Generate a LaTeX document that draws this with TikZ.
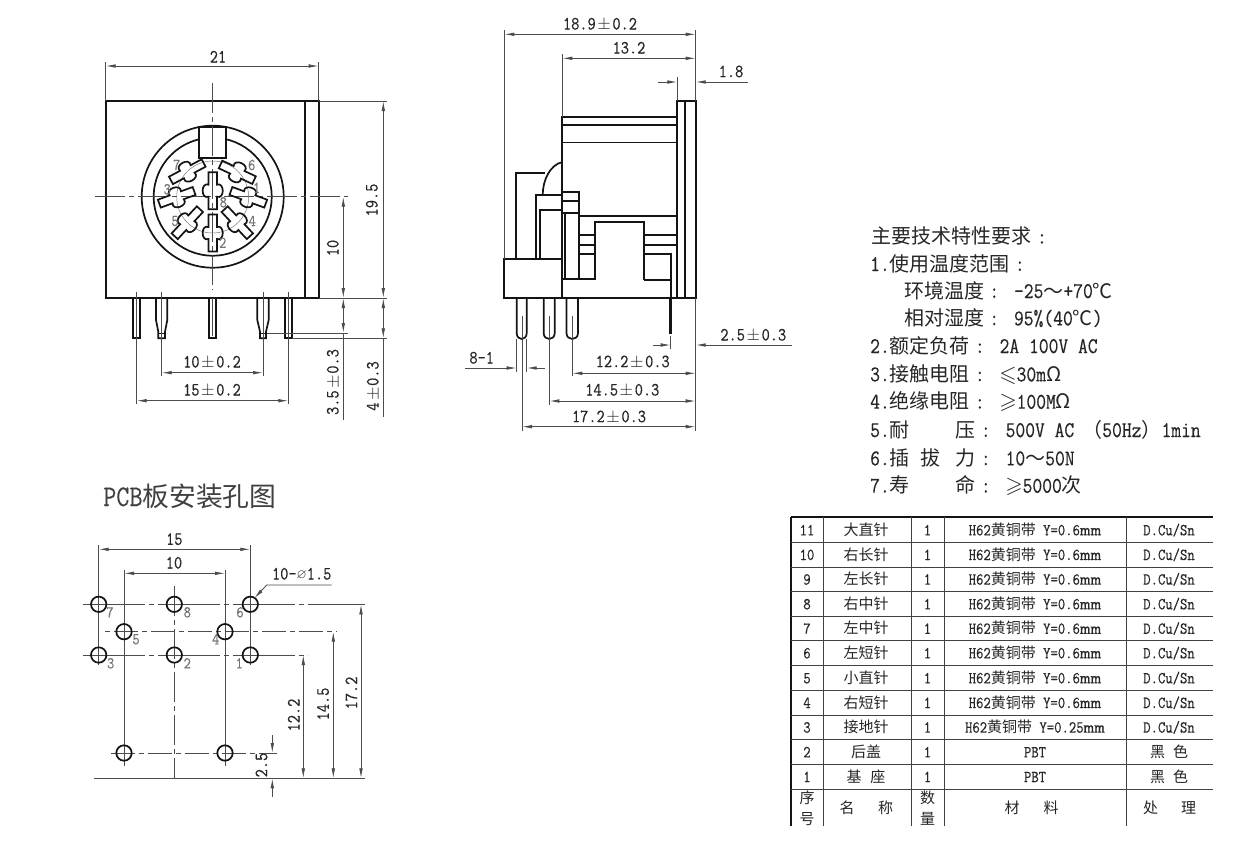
\documentclass[tikz,border=0pt]{standalone}
\usepackage{fontspec}
\usepackage{amssymb}
\usetikzlibrary{arrows.meta}
\setmonofont[FakeStretch=.85,FakeBold=.3]{Latin Modern Mono}
\newfontfamily\cjk[Scale=.893]{Noto Sans CJK SC}
\newcounter{nn}
\newcommand{\txt}[4][]{\stepcounter{nn}\node[#1] (t\arabic{nn}) at (#2,#3) {#4};}
\newcommand{\zh}[1]{{\cjk #1}}
\newcommand{\cln}{\makebox[20pt][c]{:}}
\newcommand{\PM}{\makebox[16.7pt][c]{$\pm$}}
\newcommand{\Hm}[1]{H62\zh{黄铜带} Y=#1\scalebox{1.45}[1]{mm}}
\newcommand{\sock}[3]{\draw[heavy,shift={(#1,#2)},rotate=#3]
  (-18.5,-4.2) -- (-6,-4.2) .. controls (-9,-12) and (9,-12) .. (6,-4.2) -- (18.5,-4.2) -- (18.5,4.2) -- (6,4.2)
  .. controls (9,12) and (-9,12) .. (-6,4.2) -- (-18.5,4.2) -- cycle;}
\newcommand{\hole}[2]{\draw[heavy] (#1,#2) circle (7.7);}
\newcommand{\trow}[5]{\txt[tcell]{807}{#1}{#2}\txt[tcell]{866}{#1}{#3}\txt[tcell]{927.5}{#1}{1}\txt[tcell]{1035}{#1}{#4}\txt[tcell]{1169}{#1}{#5}}
\tikzset{
  heavy/.style={line width=1.7pt,draw=black!92},
  thin line/.style={line width=.85pt,draw=black!70},
  hair/.style={line width=.45pt,draw=black!55},
  center line/.style={line width=.85pt,draw=black!70,dash pattern=on 30pt off 4pt on 5pt off 4pt},
  dimtxt/.style={inner sep=0pt,font=\ttfamily\fontsize{18.7}{19}\selectfont,text=black!85,text height=11pt,text depth=0pt},
  gray label/.style={inner sep=0pt,font=\ttfamily\fontsize{16.5}{17}\selectfont,text=black!55},
  spec/.style={inner sep=0pt,anchor=west,font=\ttfamily\fontsize{22.4}{23}\selectfont,text=black!85,text height=15pt,text depth=1pt},
  tcell/.style={inner sep=0pt,font=\ttfamily\fontsize{16.8}{17}\selectfont,text=black!85,text height=11pt,text depth=.4pt},
  table line/.style={line width=.9pt,draw=black!75},
}
\begin{document}
\begin{tikzpicture}[x=1pt,y=-1pt,>={Latex[length=10pt,width=3.6pt]},line join=miter]
\useasboundingbox[fill=white] (0,0) rectangle (1258,844);

% ---------- front view
\draw[heavy] (105.7,101) rectangle (318.7,298);
\draw[heavy] (305,101) -- (305,298);
\draw[heavy] (212.7,196.7) circle (71);
\draw[heavy] (212.7,196.7) circle (59);
\draw[heavy,fill=white] (199.3,127.3) rectangle (226,158);
\draw[center line] (95,196.7) -- (348,196.7);
\draw[center line] (212.7,83) -- (212.7,290);
\draw[hair] (212.7,197) circle (36);
\sock{212.7}{190.7}{90}
\sock{212.7}{233}{90}
\sock{187.3}{171.7}{28}
\sock{237.3}{172.3}{-25}
\sock{176.7}{197.3}{20}
\sock{248.3}{197.3}{-20}
\sock{187.3}{222.7}{47}
\sock{237.3}{222.7}{-47}
\txt[gray label]{176.7}{165}{7}
\txt[gray label]{251.7}{165}{6}
\txt[gray label]{167.3}{189.3}{3}
\txt[gray label]{256.7}{187.7}{1}
\txt[gray label]{223.3}{202.3}{8}
\txt[gray label]{175}{221}{5}
\txt[gray label]{252.3}{221}{4}
\txt[gray label]{222.7}{242.7}{2}
% front pins
\draw[heavy] (133.3,298) -- (133.3,338.3) -- (140,338.3) -- (140,298);
\draw[heavy] (285,298) -- (285,338.3) -- (292.3,338.3) -- (292.3,298);
\draw[heavy] (209,298) -- (209,338.3) -- (216.3,338.3) -- (216.3,298);
\draw[heavy] (156,298) -- (156,320) -- (158.3,331.7) -- (158.3,338.3) -- (165,338.3) -- (165,331.7) -- (167.3,320) -- (167.3,298);
\draw[heavy] (257.3,298) -- (257.3,320) -- (260,331.7) -- (260,338.3) -- (266,338.3) -- (266,331.7) -- (268.7,320) -- (268.7,298);
\draw[heavy,line width=.9pt] (158.3,333.7) -- (165,333.7) (260,333.7) -- (266,333.7);
\draw[thin line] (136.7,291.7) -- (136.7,404);
\draw[thin line] (288.3,291.7) -- (288.3,404);
\draw[thin line] (161.7,291.7) -- (161.7,376);
\draw[thin line] (263,291.7) -- (263,376);
\draw[thin line] (212.7,298) -- (212.7,336);
% front dims
\draw[thin line] (105.7,101) -- (105.7,62) (318.7,101) -- (318.7,62);
\draw[thin line,<->] (105.7,66) -- (318.7,66);
\txt[dimtxt]{218}{57}{21}
\draw[thin line] (318.7,101) -- (387,101) (318.7,298) -- (387,298);
\draw[thin line,<->] (383.3,101) -- (383.3,298);
\txt[dimtxt,rotate=90]{372}{200}{19.5}
\draw[thin line,<->] (343.3,196.7) -- (343.3,298);
\txt[dimtxt,rotate=90]{333}{248}{10}
\draw[thin line,<->] (343.3,298) -- (343.3,333);
\draw[thin line] (343.3,333) -- (343.3,420);
\draw[thin line,<->] (383.3,298) -- (383.3,338.3);
\draw[thin line] (383.3,338.3) -- (383.3,417);
\draw[thin line] (267,333) -- (348,333) (292,338.3) -- (387,338.3);
\txt[dimtxt,rotate=90]{333}{382}{3.5\PM 0.3}
\txt[dimtxt,rotate=90]{373}{386}{4\PM 0.3}
\draw[thin line,<->] (161.7,372.7) -- (263,372.7);
\txt[dimtxt]{212}{362}{10\PM 0.2}
\draw[thin line,<->] (136.7,400.7) -- (288.3,400.7);
\txt[dimtxt]{212}{390}{15\PM 0.2}

% ---------- side view
\draw[heavy] (677.3,101) rectangle (696,298.3);
\draw[heavy] (684.7,101) -- (684.7,298.3);
\draw[heavy] (562.3,298.3) -- (562.3,116.7) -- (677.3,116.7);
\draw[heavy] (562.3,125) -- (677.3,125);
\draw[heavy,line width=1.1pt] (562.3,142.3) -- (677.3,142.3);
\draw[heavy] (504,259.3) rectangle (562.3,298.3);
\draw[heavy] (562.3,298.3) -- (677.3,298.3);
\draw[heavy] (516,259.3) -- (516,172.7) -- (545.3,172.7);
\draw[heavy] (562.3,162) .. controls (550,165) and (542.7,180) .. (542.7,195.3);
\draw[heavy] (536,259.3) -- (536,195.3) -- (562.3,195.3);
\draw[heavy] (540,259.3) -- (540,210) -- (562.3,210);
\draw[heavy] (562.3,192) -- (579.3,192) -- (579.3,278.3);
\draw[heavy] (562.3,200.7) -- (579.3,200.7) (562.3,212.7) -- (579.3,212.7);
\draw[heavy] (565,212.7) -- (565,278.3);
\draw[heavy,line width=2pt] (562.3,279) -- (595,279);
\draw[heavy] (579.3,216) -- (677.3,216);
\draw[heavy] (595,280) -- (595,222) -- (644.3,222) -- (644.3,280);
\draw[heavy] (579.3,235) -- (595,235) (579.3,244.7) -- (595,244.7) (579.3,254) -- (595,254);
\draw[heavy] (644.3,235) -- (677.3,235) (644.3,244.7) -- (677.3,244.7);
\draw[heavy,line width=2pt] (644.3,279.5) -- (670,279.5);
\draw[heavy] (644.3,254) -- (670.7,254) -- (670.7,298.3);
\draw[heavy,line width=2.8pt] (670.5,298.3) -- (670.5,334);
\draw[heavy] (516.7,298.3) -- (516.7,333) .. controls (516.7,341) and (526.7,341) .. (526.7,333) -- (526.7,298.3);
\draw[heavy] (543.7,298.3) -- (543.7,333) .. controls (543.7,341) and (554.7,341) .. (554.7,333) -- (554.7,298.3);
\draw[heavy] (566.5,298.3) -- (566.5,333) .. controls (566.5,341) and (578,341) .. (578,333) -- (578,298.3);
% side dims
\draw[thin line] (504.3,30) -- (504.3,259.3);
\draw[thin line] (695.7,30) -- (695.7,101);
\draw[thin line] (562.3,54) -- (562.3,116.7);
\draw[thin line] (677.3,77) -- (677.3,101);
\draw[thin line,<->] (504.3,34.3) -- (695.7,34.3);
\txt[dimtxt]{600}{24}{18.9\PM 0.2}
\draw[thin line,<->] (562.3,58.3) -- (695.7,58.3);
\txt[dimtxt]{629}{48}{13.2}
\draw[thin line,->] (658,82) -- (677.3,82);
\draw[thin line,->] (748,82) -- (695.7,82);
\txt[dimtxt]{731}{71.7}{1.8}
\draw[thin line] (695.7,298.3) -- (695.7,431);
\draw[thin line] (670.7,336) -- (670.7,349);
\draw[thin line,->] (652.7,345) -- (670.7,345);
\draw[thin line,->] (792,345) -- (695.7,345);
\txt[dimtxt]{753.3}{335}{2.5\PM 0.3}
\draw[thin line] (522,316) -- (522,431);
\draw[thin line] (549.3,316) -- (549.3,405);
\draw[thin line] (572.3,316) -- (572.3,376);
\draw[thin line] (516.7,339) -- (516.7,372) (526.7,339) -- (526.7,372);
\draw[thin line,->] (465,368) -- (516.7,368);
\draw[thin line,->] (545,368) -- (526.7,368);
\txt[dimtxt]{481.7}{358}{8-1}
\draw[thin line,<->] (572.3,373.3) -- (695.7,373.3);
\txt[dimtxt]{632.7}{361.7}{12.2\PM 0.3}
\draw[thin line,<->] (549.3,401) -- (695.7,401);
\txt[dimtxt]{622.3}{390}{14.5\PM 0.3}
\draw[thin line,<->] (522,426.7) -- (695.7,426.7);
\txt[dimtxt]{609}{416.7}{17.2\PM 0.3}

% ---------- specification text
\txt[spec]{871.7}{236.7}{\zh{主要技术特性要求}\cln}
\txt[spec]{870}{264}{1.\zh{使用温度范围}\cln}
\txt[spec]{904}{291}{\zh{环境温度}\cln{} -25\zh{～}+70\zh{℃}}
\txt[spec]{904}{318.3}{\zh{相对湿度}\cln{} 95\%(40\zh{℃})}
\txt[spec]{870}{346}{2.\zh{额定负荷}\cln{} 2A 100V AC}
\txt[spec]{870}{374.3}{3.\zh{接触电阻}\cln{} \makebox[17pt][c]{$\leqslant$}30m\zh{Ω}}
\txt[spec]{870}{401.7}{4.\zh{绝缘电阻}\cln{} \makebox[17pt][c]{$\geqslant$}100M\zh{Ω}}
\txt[spec]{870}{430}{5.\zh{耐}\hspace{46pt}\zh{压}\cln{} 500V AC\hspace{8pt}\zh{（}50Hz\zh{）}1min}
\txt[spec]{870}{458.3}{6.\zh{插}\hspace{11pt}\zh{拔}\hspace{15pt}\zh{力}\cln{} 10\zh{～}50N}
\txt[spec]{870}{485.7}{7.\zh{寿}\hspace{46pt}\zh{命}\cln{} \makebox[17pt][c]{$\geqslant$}5000\zh{次}}

% ---------- PCB holes
\txt[inner sep=0pt,anchor=west,font=\ttfamily\fontsize{30}{31}\selectfont,text=black!75,text height=20pt,text depth=2pt]{103}{497}{PCB\zh{板安装孔图}}
\draw[thin line] (98.7,545) -- (98.7,665) (250.3,545) -- (250.3,665);
\draw[thin line] (124,570) -- (124,765.7) (225,570) -- (225,765.7);
\draw[center line] (174.3,586) -- (174.3,778.3);
\draw[center line,dash pattern=on 62pt off 4pt on 5pt off 4pt] (83.3,604.3) -- (365,604.3);
\draw[center line,dash pattern=on 5pt off 4pt on 24pt off 4pt] (105,631.7) -- (336.7,631.7);
\draw[center line,dash pattern=on 62pt off 4pt on 5pt off 4pt] (83.3,655) -- (308.3,655);
\draw[center line,dash pattern=on 24pt off 4pt on 5pt off 4pt] (110.7,753) -- (276.7,753);
\draw[thin line] (94,778.3) -- (365,778.3);
\foreach \hx/\hy in {98.7/604.3,174.3/604.3,250.3/604.3,124/631.7,225/631.7,98.7/655,174.3/655,250.3/655,124/753,225/753}{\hole{\hx}{\hy}}
\txt[gray label]{110}{612.3}{7}
\txt[gray label]{187.3}{612.3}{8}
\txt[gray label]{240}{612.3}{6}
\txt[gray label]{136}{639.3}{5}
\txt[gray label]{215.7}{639.3}{4}
\txt[gray label]{110.7}{663.3}{3}
\txt[gray label]{187.3}{663.3}{2}
\txt[gray label]{239.3}{663.3}{1}
\draw[thin line,<->] (98.7,549.3) -- (250.3,549.3);
\txt[dimtxt]{174.3}{539.3}{15}
\draw[thin line,<->] (124,573.3) -- (225,573.3);
\txt[dimtxt]{174}{563}{10}
\draw[thin line,<-] (254.3,598.3) -- (266.7,585) -- (331.7,585);
\txt[dimtxt]{301.7}{574}{10-\raisebox{1pt}{\scalebox{.7}{$\varnothing$}}1.5}
\draw[thin line,<->] (361,604.3) -- (361,778.3);
\txt[dimtxt,rotate=90]{351.7}{693}{17.2}
\draw[thin line,<->] (333.3,631.7) -- (333.3,778.3);
\txt[dimtxt,rotate=90]{323.3}{704}{14.5}
\draw[thin line,<->] (303.3,655) -- (303.3,778.3);
\txt[dimtxt,rotate=90]{294}{715}{12.2}
\draw[thin line,->] (272.3,735) -- (272.3,753);
\draw[thin line,->] (272.3,796.7) -- (272.3,778.3);
\txt[dimtxt,rotate=90]{261.7}{765}{2.5}

% ---------- parts table
\draw[heavy] (791,516.7) -- (1212.7,516.7);
\draw[heavy] (791,516.7) -- (791,826);
\foreach \vx in {823.3,911.3,944.7,1126}{\draw[table line] (\vx,516.7) -- (\vx,826);}
\foreach \ry in {542.3,567,591.7,616.3,640.7,665.3,690.3,715,739.7,764.3,789.3}{\draw[table line] (791,\ry) -- (1212.7,\ry);}
\trow{530}{11}{\zh{大直针}}{\Hm{0.6}}{D.Cu/Sn}
\trow{554.7}{10}{\zh{右长针}}{\Hm{0.6}}{D.Cu/Sn}
\trow{579.3}{9}{\zh{左长针}}{\Hm{0.6}}{D.Cu/Sn}
\trow{604}{8}{\zh{右中针}}{\Hm{0.6}}{D.Cu/Sn}
\trow{628.5}{7}{\zh{左中针}}{\Hm{0.6}}{D.Cu/Sn}
\trow{653}{6}{\zh{左短针}}{\Hm{0.6}}{D.Cu/Sn}
\trow{678}{5}{\zh{小直针}}{\Hm{0.6}}{D.Cu/Sn}
\trow{702.7}{4}{\zh{右短针}}{\Hm{0.6}}{D.Cu/Sn}
\trow{727.3}{3}{\zh{接地针}}{\Hm{0.25}}{D.Cu/Sn}
\trow{752}{2}{\zh{后盖}}{PBT}{\zh{黑\hspace{8pt}色}}
\trow{776.8}{1}{\zh{基\hspace{9pt}座}}{PBT}{\zh{黑\hspace{8pt}色}}
\txt[tcell]{807}{798}{\zh{序}}
\txt[tcell]{807}{819}{\zh{号}}
\txt[tcell]{847}{808}{\zh{名}}
\txt[tcell]{885.7}{808}{\zh{称}}
\txt[tcell]{927.7}{798}{\zh{数}}
\txt[tcell]{927.7}{819}{\zh{量}}
\txt[tcell]{1012}{808}{\zh{材}}
\txt[tcell]{1051}{808}{\zh{料}}
\txt[tcell]{1150.7}{808}{\zh{处}}
\txt[tcell]{1188.7}{808}{\zh{理}}
\end{tikzpicture}
\end{document}
